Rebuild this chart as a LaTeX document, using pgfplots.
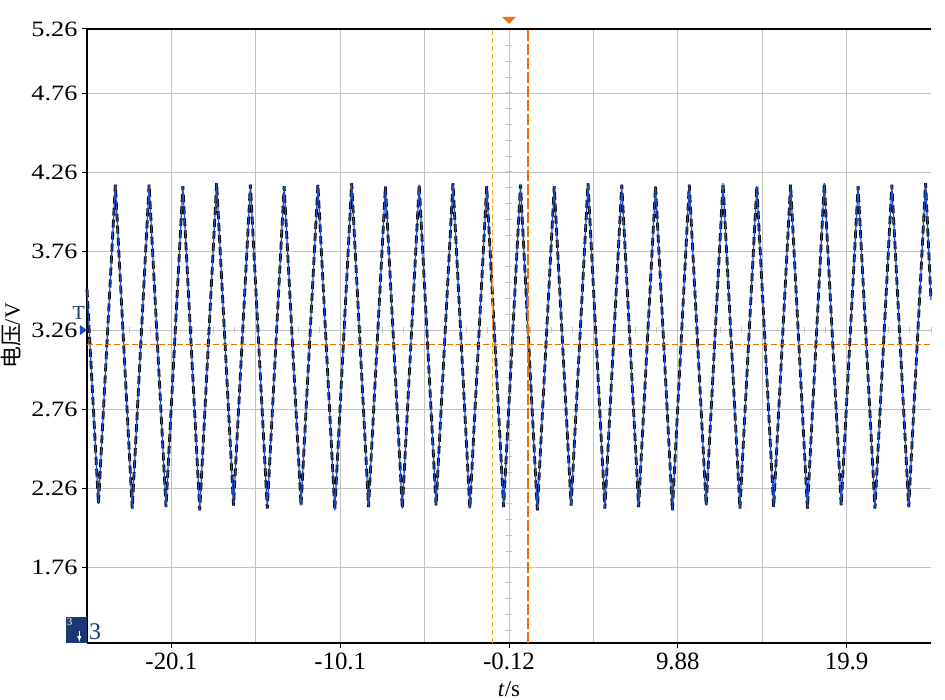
\documentclass[border=0pt]{standalone}
\usepackage{pgfplots}
\pgfplotsset{compat=1.18}
\usepackage{fontspec}
\setmainfont{Liberation Serif}
\newfontfamily\cjk{Noto Sans CJK SC}
\newfontfamily\ytickfont[FakeStretch=1.2]{Liberation Serif}

\definecolor{trace}{RGB}{35,75,195}
\definecolor{gridgray}{RGB}{195,195,195}
\definecolor{cursorA}{RGB}{255,160,40}
\definecolor{cursorB}{RGB}{235,115,0}
\definecolor{scopeblue}{RGB}{25,55,115}

\begin{document}
\begin{tikzpicture}
\begin{axis}[
  name=ax,
  scale only axis,
  width=844bp, height=614bp,
  xmin=-25.12, xmax=24.88,
  ymin=1.28, ymax=5.165,
  axis x line*=bottom,
  axis y line*=left,
  axis line style={black, line width=1.1pt},
  clip=false,
  xtick={-20.12,-10.12,-0.12,9.88,19.88},
  xticklabels={-20.1,-10.1,-0.12,9.88,19.9},
  minor xtick={-15.12,-5.12,4.88,14.88},
  ytick={1.76,2.26,2.76,3.26,3.76,4.26,4.76,5.165},
  yticklabels={1.76,2.26,2.76,3.26,3.76,4.26,4.76,5.26},
  grid=both,
  major grid style={gridgray, line width=1pt},
  minor grid style={gridgray, line width=1pt},
  tick align=outside,
  major tick length=5bp,
  minor tick length=0pt,
  tick style={black, line width=1pt},
  xticklabel style={font=\fontsize{25}{28}\selectfont, yshift=-1bp},
  yticklabel style={font=\ytickfont\fontsize{22}{24}\selectfont, xshift=-1bp},
  xlabel={\fontsize{23}{26}\selectfont\textit{t}/s},
  ylabel={\cjk\fontsize{22}{26}\selectfont 电压\rmfamily/V},
  xlabel style={yshift=-5bp},
  ylabel style={yshift=3bp},
]
% centre graticule ticks
\pgfplotsinvokeforeach{-23.87,-22.62,...,24.5}{
  \draw[gridgray, line width=1pt] ([yshift=-3bp]axis cs:#1,3.26) -- ([yshift=3bp]axis cs:#1,3.26);
}
\pgfplotsinvokeforeach{1.36,1.46,...,5.15}{
  \draw[gridgray, line width=1pt] ([xshift=-3bp]axis cs:-0.12,#1) -- ([xshift=3bp]axis cs:-0.12,#1);
}

% waveform: quantised steps (black) and trace (blue)
\pgfplotstableread{
t v
-25.12 3.52
-24.44 2.16
-23.44 4.18
-22.44 2.13
-21.44 4.18
-20.44 2.14
-19.44 4.17
-18.44 2.12
-17.44 4.19
-16.44 2.15
-15.44 4.18
-14.44 2.13
-13.44 4.17
-12.44 2.15
-11.44 4.18
-10.44 2.12
-9.44 4.19
-8.44 2.14
-7.44 4.17
-6.44 2.13
-5.44 4.18
-4.44 2.15
-3.44 4.19
-2.44 2.13
-1.44 4.17
-0.44 2.14
0.56 4.18
1.56 2.12
2.56 4.17
3.56 2.15
4.56 4.19
5.56 2.13
6.56 4.18
7.56 2.14
8.56 4.17
9.56 2.12
10.56 4.18
11.56 2.15
12.56 4.19
13.56 2.13
14.56 4.17
15.56 2.14
16.56 4.18
17.56 2.13
18.56 4.19
19.56 2.15
20.56 4.17
21.56 2.13
22.56 4.18
23.56 2.14
24.56 4.19
24.88 3.45
}\wave
\addplot[black, line width=2.8pt, dash pattern=on 8bp off 4bp] table[x=t, y=v] {\wave};
\addplot[trace, line width=1.2pt] table[x=t, y=v] {\wave};

% cursors
\addplot[color=cursorB, line width=1.2pt, dash pattern=on 6bp off 3bp] coordinates {(-25.12,3.17) (24.88,3.17)};
\addplot[color=cursorA, line width=1.4pt, dash pattern=on 5bp off 3bp] coordinates {(-1.08,1.28) (-1.08,5.165)};
\addplot[color=cursorB, line width=2pt, dash pattern=on 11bp off 3bp] coordinates {(0.99,1.28) (0.99,5.165)};

% top trigger-position marker and left trigger-level marker
\fill[cursorB] ([yshift=5bp]axis cs:-0.12,5.165) -- ([xshift=-7bp, yshift=12bp]axis cs:-0.12,5.165) -- ([xshift=7bp, yshift=12bp]axis cs:-0.12,5.165) -- cycle;
\fill[trace] (axis cs:-25.12,3.26) -- ([xshift=-7bp, yshift=5bp]axis cs:-25.12,3.26) -- ([xshift=-7bp, yshift=-5bp]axis cs:-25.12,3.26) -- cycle;
\node[scopeblue, font=\fontsize{20}{22}\selectfont, anchor=south east, inner sep=0pt] at ([xshift=-2bp, yshift=10bp]axis cs:-25.12,3.26) {T};

% channel badge
\node[fill=scopeblue, minimum width=21bp, minimum height=26bp, inner sep=0pt, anchor=south east] (badge) at (axis cs:-25.12,1.28) {};
\node[white, font=\fontsize{11}{12}\selectfont, anchor=north west, inner sep=1bp] at (badge.north west) {3};
\draw[white, line width=1pt, -latex] ([xshift=3bp, yshift=-1bp]badge.center) -- ([xshift=3bp, yshift=-12bp]badge.center);
\node[scopeblue, font=\fontsize{24}{26}\selectfont, anchor=south west, inner sep=0pt] at ([xshift=2bp, yshift=3bp]axis cs:-25.12,1.28) {3};

% top frame line
\draw[black, line width=1.6pt] (rel axis cs:0,1) -- (rel axis cs:1,1);
\end{axis}
\pgfresetboundingbox
\path[use as bounding box] ([shift={(-87bp,-57bp)}]ax.south west) rectangle ([shift={(14bp,29bp)}]ax.north east);
\end{tikzpicture}
\end{document}
